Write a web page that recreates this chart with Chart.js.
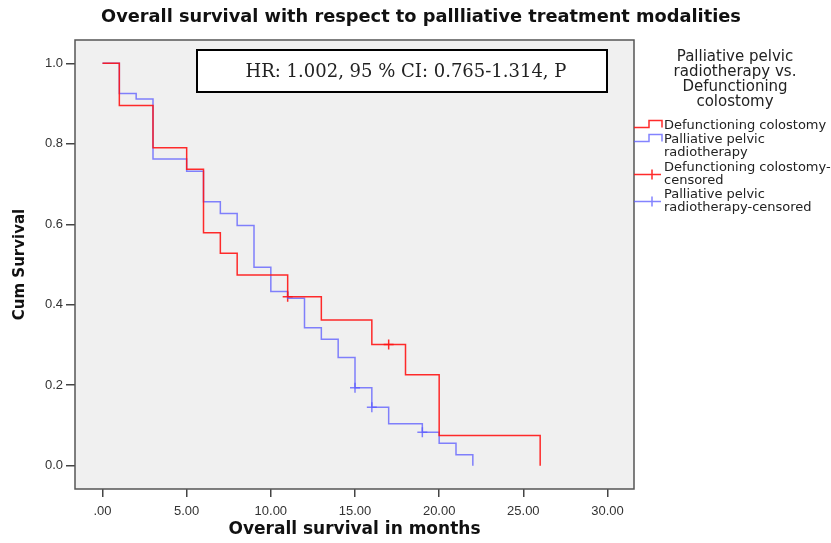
<!DOCTYPE html>
<html>
<head>
<meta charset="utf-8">
<script src="https://cdn.jsdelivr.net/npm/chart.js@4"></script>
<style>
    html, body { margin: 0; padding: 0; background: #fff; }
    #wrap { width: 831px; height: 543px; }
</style>
</head>
<body>
<div id="wrap"><canvas id="kmChart" width="831" height="543"></canvas></div>
<script>
// 数据
const colostomyTimes = [0, 1, 3, 5, 6, 7, 8, 11, 13, 16, 18, 20, 26];
const colostomySurv = [1.0, 0.895, 0.790, 0.737, 0.579, 0.528, 0.474, 0.420, 0.362, 0.301, 0.226, 0.075, 0.0];
const colostomyCensorTimes = [11, 17];
const colostomyCensorSurv = [0.420, 0.301];

const radioTimes = [0, 1, 2, 3, 5, 6, 7, 8, 9, 10, 11, 12, 13, 14, 15, 16, 17, 19, 20, 21, 22];
const radioSurv = [1.0, 0.925, 0.911, 0.762, 0.732, 0.656, 0.627, 0.597, 0.493, 0.433, 0.416, 0.343, 0.314, 0.269, 0.194, 0.145, 0.104, 0.083, 0.056, 0.027, 0.0];
const radioCensorTimes = [15, 16, 19];
const radioCensorSurv = [0.194, 0.145, 0.083];

const xTicks = [0, 5, 10, 15, 20, 25, 30];
const yTicks = [0, 0.2, 0.4, 0.6, 0.8, 1.0];

const chartTitle = 'Overall survival with respect to pallliative treatment modalities';
const hrText = 'HR: 1.002, 95 % CI: 0.765-1.314, P';
const legendTitle = ['Palliative pelvic', 'radiotherapy vs.', 'Defunctioning', 'colostomy'];
const legendItems = [
    { lines: ['Defunctioning colostomy'], kind: 'step', color: 'red' },
    { lines: ['Palliative pelvic', 'radiotherapy'], kind: 'step', color: 'blue' },
    { lines: ['Defunctioning colostomy-', 'censored'], kind: 'cross', color: 'red' },
    { lines: ['Palliative pelvic', 'radiotherapy-censored'], kind: 'cross', color: 'blue' }
];

const RED = 'rgba(255, 20, 20, 0.9)';
const BLUE = 'rgba(90, 90, 255, 0.75)';
const FONT = "'Liberation Sans', Arial, sans-serif";
const WIDE = "'DejaVu Sans', Verdana, sans-serif";

function toPoints(xs, ys) {
    return xs.map((x, i) => ({ x: x, y: ys[i] }));
}

// 图例中的小图标
function drawStepIcon(ctx, x, y, color) {
    ctx.strokeStyle = color;
    ctx.lineWidth = 1.5;
    ctx.beginPath();
    ctx.moveTo(x, y);
    ctx.lineTo(x + 15, y);
    ctx.lineTo(x + 15, y - 7);
    ctx.lineTo(x + 28, y - 7);
    ctx.lineTo(x + 28, y);
    ctx.stroke();
}

function drawCrossIcon(ctx, x, y, color) {
    ctx.strokeStyle = color;
    ctx.lineWidth = 1.5;
    ctx.beginPath();
    ctx.moveTo(x, y);
    ctx.lineTo(x + 27, y);
    ctx.moveTo(x + 18, y - 5);
    ctx.lineTo(x + 18, y + 5);
    ctx.stroke();
}

const decorPlugin = {
    id: 'decor',
    beforeDraw(chart) {
        const { ctx, chartArea: a } = chart;
        ctx.save();
        ctx.fillStyle = '#ffffff';
        ctx.fillRect(0, 0, chart.width, chart.height);
        ctx.fillStyle = '#f0f0f0';
        ctx.fillRect(a.left, a.top, a.width, a.height);
        ctx.restore();
    },
    afterDraw(chart) {
        const { ctx, chartArea: a } = chart;
        ctx.save();

        // 外框
        ctx.strokeStyle = '#555';
        ctx.lineWidth = 1.5;
        ctx.strokeRect(a.left, a.top, a.width, a.height);

        // 标题
        ctx.fillStyle = '#111';
        ctx.font = 'bold 17.8px ' + WIDE;
        ctx.textAlign = 'center';
        ctx.textBaseline = 'middle';
        ctx.fillText(chartTitle, 421, 17);

        // HR 文本框
        ctx.fillStyle = '#fff';
        ctx.fillRect(197, 50, 410, 42);
        ctx.strokeStyle = '#000';
        ctx.lineWidth = 2;
        ctx.strokeRect(197, 50, 410, 42);
        ctx.fillStyle = '#222';
        ctx.font = "18px 'DejaVu Serif', serif";
        ctx.fillText(hrText, 406, 72);

        // 图例
        ctx.fillStyle = '#222';
        ctx.font = '15px ' + WIDE;
        legendTitle.forEach((t, i) => ctx.fillText(t, 735, 57 + i * 15));

        ctx.textAlign = 'left';
        ctx.font = '13px ' + WIDE;
        const rows = [[126], [140, 153], [168, 181], [195, 208]];
        legendItems.forEach((item, i) => {
            const color = item.color === 'red' ? RED : BLUE;
            if (item.kind === 'step') {
                drawStepIcon(ctx, 634, rows[i][0] + 1.5, color);
            } else {
                drawCrossIcon(ctx, 634, (rows[i][0] + rows[i][1]) / 2, color);
            }
            ctx.fillStyle = '#222';
            item.lines.forEach((l, j) => ctx.fillText(l, 664, rows[i][j]));
        });
        ctx.restore();
    }
};

document.addEventListener('DOMContentLoaded', function() {
    const ctx = document.getElementById('kmChart').getContext('2d');
    new Chart(ctx, {
        type: 'line',
        data: {
            datasets: [{
                label: 'Defunctioning colostomy',
                data: toPoints(colostomyTimes, colostomySurv),
                borderColor: RED,
                borderWidth: 1.5,
                stepped: 'before',
                pointRadius: 0,
                fill: false
            }, {
                label: 'Palliative pelvic radiotherapy',
                data: toPoints(radioTimes, radioSurv),
                borderColor: BLUE,
                borderWidth: 1.5,
                stepped: 'before',
                pointRadius: 0,
                fill: false
            }, {
                label: 'Defunctioning colostomy-censored',
                type: 'scatter',
                data: toPoints(colostomyCensorTimes, colostomyCensorSurv),
                pointStyle: 'cross',
                pointRadius: 5,
                borderColor: RED,
                borderWidth: 1.5,
                showLine: false
            }, {
                label: 'Palliative pelvic radiotherapy-censored',
                type: 'scatter',
                data: toPoints(radioCensorTimes, radioCensorSurv),
                pointStyle: 'cross',
                pointRadius: 5,
                borderColor: BLUE,
                borderWidth: 1.5,
                showLine: false
            }]
        },
        options: {
            responsive: false,
            animation: false,
            layout: {
                padding: { top: 40, right: 197, bottom: 0, left: 0 }
            },
            scales: {
                x: {
                    type: 'linear',
                    min: -1.634,
                    max: 31.574,
                    afterBuildTicks: axis => { axis.ticks = xTicks.map(v => ({ value: v })); },
                    afterFit: axis => { axis.height = 54; },
                    grid: { display: true, drawOnChartArea: false, drawTicks: true, tickLength: 8, color: '#444', lineWidth: 1.5 },
                    border: { display: false },
                    ticks: {
                        padding: 7,
                        color: '#333',
                        font: { family: FONT, size: 13 },
                        maxRotation: 0,
                        callback: v => v === 0 ? '.00' : v.toFixed(2)
                    },
                    title: {
                        display: true,
                        text: 'Overall survival in months',
                        color: '#111',
                        font: { family: WIDE, size: 17, weight: 'bold' },
                        padding: { top: 0, bottom: 3 }
                    }
                },
                y: {
                    type: 'linear',
                    min: -0.0579,
                    max: 1.0579,
                    afterBuildTicks: axis => { axis.ticks = yTicks.map(v => ({ value: v })); },
                    afterFit: axis => { axis.width = 75; },
                    grid: { display: true, drawOnChartArea: false, drawTicks: true, tickLength: 9, color: '#444', lineWidth: 1.5 },
                    border: { display: false },
                    ticks: {
                        padding: 3,
                        color: '#333',
                        font: { family: FONT, size: 13 },
                        callback: v => v.toFixed(1)
                    },
                    title: {
                        display: true,
                        text: 'Cum Survival',
                        color: '#111',
                        font: { family: WIDE, size: 15, weight: 'bold' },
                        padding: { top: 11, bottom: 0 }
                    }
                }
            },
            plugins: {
                legend: { display: false },
                tooltip: { enabled: false }
            }
        },
        plugins: [decorPlugin]
    });
});
</script>
</body>
</html>
